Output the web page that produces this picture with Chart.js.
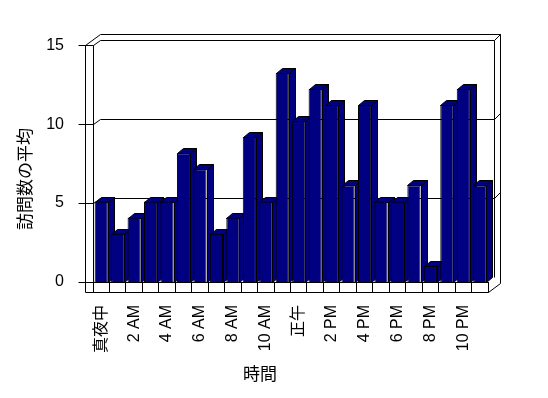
<!DOCTYPE html>
<html>
<head>
<meta charset="utf-8">
<script src="https://cdn.jsdelivr.net/npm/chart.js@4/dist/chart.umd.min.js"></script>
<style>
  html, body { margin: 0; padding: 0; background: #fff; }
</style>
</head>
<body>
<canvas id="chart" width="548" height="398"></canvas>
<script>
var hours = ['真夜中', '1 AM', '2 AM', '3 AM', '4 AM', '5 AM', '6 AM', '7 AM', '8 AM', '9 AM', '10 AM', '11 AM',
             '正午', '1 PM', '2 PM', '3 PM', '4 PM', '5 PM', '6 PM', '7 PM', '8 PM', '9 PM', '10 PM', '11 PM'];
var visits = [5, 3, 4, 5, 5, 8, 7, 3, 4, 9, 5, 13, 10, 12, 11, 6, 11, 5, 5, 6, 1, 11, 12, 6];
var yTicks = [0, 5, 10, 15];

var FONT = '"Liberation Sans", "Noto Sans CJK JP", sans-serif';
Chart.defaults.font.family = FONT;
Chart.defaults.color = '#000';

function px(v) { return Math.round(v) + 0.5; }

// draws the excel-like 3d box, the wall grid lines and the bar depth faces
var frame = {
    id: 'frame',
    beforeDatasetsDraw: function (chart) {
        var c = chart.ctx, a = chart.chartArea, s = chart.scales.y2;
        var L = a.left, R = a.right, B = a.bottom;
        var top = s.getPixelForValue(15);

        c.save();
        c.strokeStyle = '#000';
        c.lineWidth = 1;

        function poly(pts, close) {
            c.beginPath();
            c.moveTo(px(pts[0][0]), px(pts[0][1]));
            for (var i = 1; i < pts.length; i++) c.lineTo(px(pts[i][0]), px(pts[i][1]));
            if (close) c.closePath();
            c.stroke();
        }

        // outline
        poly([[L - 8, B + 10], [L - 8, top], [L + 7, top - 11], [R + 12, top - 11],
              [R + 12, B + 1], [R, B + 10]], true);
        poly([[L, top], [L, B]]);
        poly([[R + 6, top - 5], [R + 6, B - 5]]);
        poly([[R, B], [R, B + 10]]);
        poly([[L - 8, B], [L, B]]);

        // ticks + grid lines on the walls
        yTicks.forEach(function (v) {
            var y = s.getPixelForValue(v);
            if (v === 0) {
                poly([[L - 15, y], [L - 8, y]]);
                return;
            }
            poly([[L - 15, y], [L, y], [L + 7, y - 5], [R + 6, y - 5], [R + 12, y - 11]]);
        });

        // side and top faces of the bars
        var meta = chart.getDatasetMeta(0);
        c.fillStyle = '#000080';
        meta.data.forEach(function (bar) {
            var l = bar.x - bar.width / 2, r = bar.x + bar.width / 2;
            var t = bar.y, b = bar.base;
            var faces = [
                [[r, t], [r + 6, t - 5], [r + 6, b - 5], [r, b]],
                [[l, t], [l + 6, t - 5], [r + 6, t - 5], [r, t]]
            ];
            faces.forEach(function (f) {
                c.beginPath();
                c.moveTo(px(f[0][0]), px(f[0][1]));
                for (var i = 1; i < f.length; i++) c.lineTo(px(f[i][0]), px(f[i][1]));
                c.closePath();
                c.fill();
                c.stroke();
            });
        });
        c.restore();
    },
    afterDraw: function (chart) {
        var c = chart.ctx;
        c.save();
        c.fillStyle = '#000';
        c.font = '17px ' + FONT;
        c.textAlign = 'center';
        c.textBaseline = 'middle';
        c.fillText('時間', 260, 375);
        c.translate(26, 179);
        c.rotate(-Math.PI / 2);
        c.fillText('訪問数の平均', 0, 0);
        c.restore();
    }
};

var ctx = document.getElementById('chart');

var visitsChart = new Chart(ctx, {
    type: 'bar',
    data: {
        labels: hours,
        datasets: [{
            label: '訪問数の平均',
            data: visits,
            backgroundColor: '#000080',
            borderColor: '#000',
            borderWidth: 1,
            barPercentage: 0.8,
            categoryPercentage: 1
        }]
    },
    options: {
        responsive: false,
        animation: false,
        devicePixelRatio: 1,
        layout: { padding: { top: 40.5, right: 60, left: 0, bottom: 0 } },
        plugins: { legend: { display: false }, tooltip: { enabled: false } },
        scales: {
            x: {
                offset: true,
                grid: { display: true, drawOnChartArea: false, tickLength: 10, color: '#000', offset: true },
                border: { display: true, color: '#000' },
                ticks: {
                    autoSkip: false, maxRotation: 90, minRotation: 90, padding: 13,
                    font: { size: 16 },
                    callback: function (v, i) { return i % 2 ? '' : hours[i]; }
                },
                afterFit: function (s) { s.height = 116; }
            },
            y: { display: false, min: 0, max: 15 },
            y2: {
                position: 'left',
                min: 0,
                max: 15.3,
                grid: { display: false },
                border: { display: false },
                ticks: { padding: 21, font: { size: 16 } },
                afterBuildTicks: function (s) {
                    s.ticks = yTicks.map(function (v) { return { value: v }; });
                },
                afterFit: function (s) { s.width = 93; }
            }
        }
    },
    plugins: [frame]
});
</script>
</body>
</html>
